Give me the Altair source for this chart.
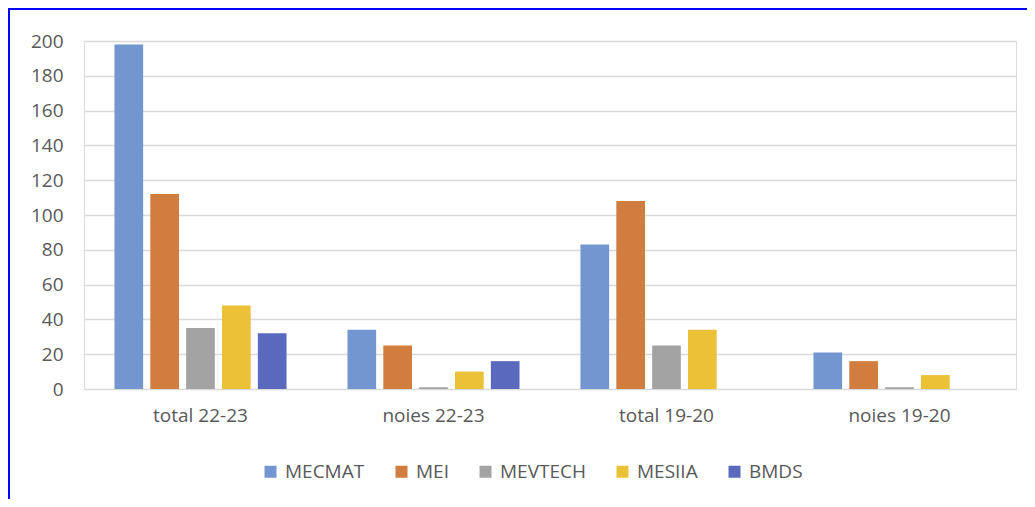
import altair as alt
import pandas as pd

categories = ["total 22-23", "noies 22-23", "total 19-20", "noies 19-20"]
series = ["MECMAT", "MEI", "MEVTECH", "MESIIA", "BMDS"]
mecmat = [198, 34, 83, 21]
mei = [112, 25, 108, 16]
mevtech = [35, 1, 25, 1]
mesiia = [48, 10, 34, 8]
bmds = [32, 16, None, None]
colors = ["#7395d0", "#d07d3f", "#a3a3a3", "#ebc138", "#5a69bd"]
y_ticks = [0, 20, 40, 60, 80, 100, 120, 140, 160, 180, 200]

rows = []
for s, vals in zip(series, [mecmat, mei, mevtech, mesiia, bmds]):
    for c, v in zip(categories, vals):
        if v is not None:
            rows.append({"category": c, "series": s, "value": v})
df = pd.DataFrame(rows)

W, H = 932, 348
FONT = "Open Sans"
TXT = "#595959"
FS = 19

bars = alt.Chart(df).mark_bar().encode(
    x=alt.X("category:N", sort=categories,
            scale=alt.Scale(paddingInner=0, paddingOuter=0),
            axis=alt.Axis(title=None, labelAngle=0, labelFontSize=FS, labelColor=TXT,
                          labelPadding=17, ticks=False, domain=False, grid=False,
                          labelFont=FONT)),
    xOffset=alt.XOffset("series:N", sort=series,
                        scale=alt.Scale(domain=series, paddingInner=0.2, paddingOuter=0.85)),
    y=alt.Y("value:Q", scale=alt.Scale(domain=[0, 200], nice=False),
            axis=alt.Axis(title=None, values=y_ticks, grid=True, gridColor="#d9d9d9",
                          gridWidth=1.5, domain=False, ticks=False, labelPadding=21,
                          labelFontSize=FS, labelColor=TXT, labelFont=FONT)),
    color=alt.Color("series:N", sort=series,
                    scale=alt.Scale(domain=series, range=colors),
                    legend=alt.Legend(title=None, orient="none", legendX=177, legendY=421,
                                      direction="horizontal", symbolType="square",
                                      symbolSize=144, symbolStrokeWidth=0,
                                      labelFontSize=FS, labelColor=TXT, labelFont=FONT,
                                      columnPadding=27, labelOffset=5)),
)

frame_df = pd.DataFrame({"k": [0]})
left_line = alt.Chart(frame_df).mark_rule(color="#0000ff", strokeWidth=2).encode(
    x=alt.value(-75), y=alt.value(-33), y2=alt.value(H + 120))
top_line = alt.Chart(frame_df).mark_rule(color="#0000ff", strokeWidth=2).encode(
    x=alt.value(-76), x2=alt.value(W + 20), y=alt.value(-32))

chart = alt.layer(bars, left_line, top_line).properties(
    width=W, height=H,
    autosize=alt.AutoSizeParams(type="none"),
    padding={"left": 76, "top": 33, "right": 11, "bottom": 110},
).configure_view(stroke=None).configure(background="white")

chart.save("out.html", embed_options={"renderer": "svg", "actions": False})
